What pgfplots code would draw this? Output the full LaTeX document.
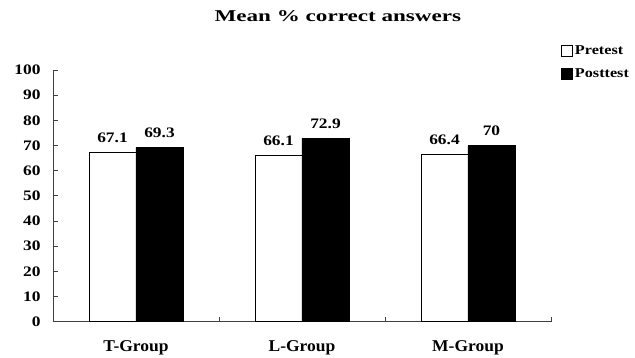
\documentclass[border=0pt]{standalone}
\usepackage{fontspec}
\setmainfont{Liberation Serif}[FakeStretch=1.2]
\newfontfamily\titlefont{Liberation Serif}[FakeStretch=1.4]
\newfontfamily\groupfont{Liberation Serif}[FakeStretch=1.06]
\usepackage{pgfplots}
\pgfplotsset{compat=1.18}

\begin{document}
\begin{tikzpicture}[x=1pt,y=1pt]
\begin{axis}[
  at={(0,0)}, anchor=south west,
  scale only axis,
  width=498pt, height=251.7pt,
  ybar=0pt, bar width=47pt,
  xmin=-0.5, xmax=2.5,
  ymin=0, ymax=100,
  ytick={0,10,...,100},
  xtick={0.5,1.5,2.5},
  xticklabels={},
  extra x ticks={0,1,2},
  extra x tick labels={T-Group,L-Group,M-Group},
  extra x tick style={major tick length=0pt,
    tick label style={yshift=-15pt, font=\fontsize{16.5}{18}\selectfont\groupfont\bfseries}},
  axis x line*=bottom, axis y line*=left,
  axis line style={black!75, line width=0.9pt},
  tick align=inside,
  major tick length=5pt,
  tick style={black!75, line width=0.9pt},
  /pgf/number format/assume math mode=true,
  tick label style={font=\fontsize{14.5}{16}\selectfont\bfseries},
  yticklabel style={xshift=-9pt},
  nodes near coords,
  nodes near coords style={font=\fontsize{14.5}{16}\selectfont\bfseries, yshift=6pt},
  title={Mean \% correct answers},
  title style={font=\fontsize{16.5}{18}\selectfont\titlefont\bfseries, at={(0.572,1.21)}, anchor=center, yshift=-5pt},
  legend style={draw=none, fill=none, at={(1.020,1.105)}, anchor=north west,
    font=\fontsize{13.5}{15}\selectfont\bfseries, row sep=9pt, inner sep=0pt,
    /tikz/every even column/.append style={column sep=2pt}},
  legend image code/.code={\draw[#1, draw=black, line width=0.8pt] (0pt,-5.5pt) rectangle (11pt,5.5pt);},
  legend cell align=left,
]
\addplot[fill=white, draw=black, line width=0.9pt] coordinates {(0,67.1) (1,66.1) (2,66.4)};
\addplot[fill=black, draw=black, line width=0.9pt] coordinates {(0,69.3) (1,72.9) (2,70)};
\legend{Pretest, Posttest}
\end{axis}
\pgfresetboundingbox
\path (-53,-36.3) rectangle (582,321.7);
\end{tikzpicture}
\end{document}
